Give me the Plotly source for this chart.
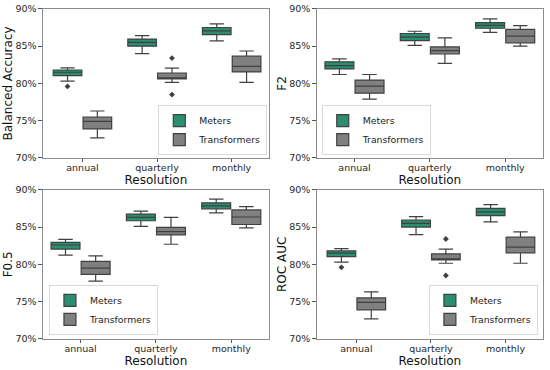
import plotly.graph_objects as go

categories = ["annual", "quarterly", "monthly"]
groups = ["Meters", "Transformers"]
metrics = ["Balanced Accuracy", "F2", "F0.5", "ROC AUC"]
y_ticks = [70, 75, 80, 85, 90]
y_tick_labels = ["70%", "75%", "80%", "85%", "90%"]

# Balanced Accuracy (percent)
ba_meters_low = [80.3, 84.0, 85.7]
ba_meters_q1 = [81.05, 85.0, 86.55]
ba_meters_med = [81.5, 85.5, 87.05]
ba_meters_q3 = [81.8, 85.95, 87.5]
ba_meters_high = [82.1, 86.4, 88.0]
ba_meters_out_x = ["annual"]
ba_meters_out_y = [79.6]
ba_trans_low = [72.7, 80.15, 80.15]
ba_trans_q1 = [73.9, 80.6, 81.55]
ba_trans_med = [74.9, 80.7, 82.3]
ba_trans_q3 = [75.5, 81.4, 83.65]
ba_trans_high = [76.3, 82.05, 84.35]
ba_trans_out_x = ["quarterly", "quarterly"]
ba_trans_out_y = [83.4, 78.5]

# F2
f2_meters_low = [81.2, 85.1, 86.85]
f2_meters_q1 = [81.95, 85.75, 87.4]
f2_meters_med = [82.4, 86.2, 87.8]
f2_meters_q3 = [82.9, 86.7, 88.15]
f2_meters_high = [83.3, 87.0, 88.65]
f2_trans_low = [77.9, 82.7, 85.0]
f2_trans_q1 = [78.7, 83.95, 85.45]
f2_trans_med = [79.65, 84.4, 86.35]
f2_trans_q3 = [80.45, 84.9, 87.25]
f2_trans_high = [81.2, 86.1, 87.75]

# F0.5
f05_meters_low = [81.25, 85.1, 86.9]
f05_meters_q1 = [82.05, 85.85, 87.45]
f05_meters_med = [82.6, 86.3, 87.85]
f05_meters_q3 = [82.95, 86.75, 88.25]
f05_meters_high = [83.35, 87.15, 88.75]
f05_trans_low = [77.75, 82.7, 84.9]
f05_trans_q1 = [78.65, 83.95, 85.35]
f05_trans_med = [79.5, 84.4, 86.35]
f05_trans_q3 = [80.4, 84.95, 87.3]
f05_trans_high = [81.15, 86.3, 87.75]

# ROC AUC
roc_meters_low = [80.3, 84.0, 85.7]
roc_meters_q1 = [81.05, 85.0, 86.55]
roc_meters_med = [81.5, 85.5, 87.05]
roc_meters_q3 = [81.8, 85.95, 87.5]
roc_meters_high = [82.1, 86.4, 88.0]
roc_meters_out_x = ["annual"]
roc_meters_out_y = [79.6]
roc_trans_low = [72.7, 80.15, 80.15]
roc_trans_q1 = [73.9, 80.6, 81.55]
roc_trans_med = [74.9, 80.7, 82.3]
roc_trans_q3 = [75.5, 81.4, 83.65]
roc_trans_high = [76.3, 82.05, 84.35]
roc_trans_out_x = ["quarterly", "quarterly"]
roc_trans_out_y = [83.4, 78.5]

panels = [
    [(ba_meters_low, ba_meters_q1, ba_meters_med, ba_meters_q3, ba_meters_high, ba_meters_out_x, ba_meters_out_y),
     (ba_trans_low, ba_trans_q1, ba_trans_med, ba_trans_q3, ba_trans_high, ba_trans_out_x, ba_trans_out_y)],
    [(f2_meters_low, f2_meters_q1, f2_meters_med, f2_meters_q3, f2_meters_high, [], []),
     (f2_trans_low, f2_trans_q1, f2_trans_med, f2_trans_q3, f2_trans_high, [], [])],
    [(f05_meters_low, f05_meters_q1, f05_meters_med, f05_meters_q3, f05_meters_high, [], []),
     (f05_trans_low, f05_trans_q1, f05_trans_med, f05_trans_q3, f05_trans_high, [], [])],
    [(roc_meters_low, roc_meters_q1, roc_meters_med, roc_meters_q3, roc_meters_high, roc_meters_out_x, roc_meters_out_y),
     (roc_trans_low, roc_trans_q1, roc_trans_med, roc_trans_q3, roc_trans_high, roc_trans_out_x, roc_trans_out_y)],
]

colors = ["#2a8e70", "#808080"]
edge = "#404040"
FONT = "DejaVu Sans"

x_domains = [[0.078, 0.489], [0.576, 0.987], [0.078, 0.489], [0.576, 0.987]]
y_domains = [[0.573, 0.976], [0.573, 0.976], [0.084, 0.487], [0.084, 0.487]]
legend_pos = [
    dict(x=0.486, y=0.581, xanchor="right", yanchor="bottom"),
    dict(x=0.585, y=0.581, xanchor="left", yanchor="bottom"),
    dict(x=0.089, y=0.095, xanchor="left", yanchor="bottom"),
    dict(x=0.978, y=0.095, xanchor="right", yanchor="bottom"),
]

fig = go.Figure()
layout = dict(
    width=550, height=370,
    margin=dict(l=0, r=0, t=0, b=0, autoexpand=False),
    paper_bgcolor="white", plot_bgcolor="white",
    font=dict(family=FONT, size=10, color="#222222"),
    boxmode="group", boxgap=0.2, boxgroupgap=0.04,
    showlegend=True,
)

for k, panel in enumerate(panels):
    sfx = "" if k == 0 else str(k + 1)
    leg = "legend" + sfx
    for g, (low, q1, med, q3, high, ox, oy) in enumerate(panel):
        fig.add_trace(go.Box(
            name=groups[g],
            x=categories,
            lowerfence=low, q1=q1, median=med, q3=q3, upperfence=high,
            boxpoints=False,
            fillcolor=colors[g],
            line=dict(color=edge, width=1.2),
            whiskerwidth=0.5,
            offsetgroup=groups[g],
            xaxis="x" + sfx, yaxis="y" + sfx,
            legend=leg,
            hoverinfo="skip",
        ))
    for g, (low, q1, med, q3, high, ox, oy) in enumerate(panel):
        if len(oy) == 0:
            continue
        fig.add_trace(go.Box(
            name=groups[g] + " outliers",
            x=ox, y=oy,
            boxpoints="all", jitter=0, pointpos=0,
            fillcolor="rgba(0,0,0,0)",
            line=dict(color="rgba(0,0,0,0)", width=0),
            marker=dict(symbol="diamond", size=4.5, color=edge),
            offsetgroup=groups[g],
            xaxis="x" + sfx, yaxis="y" + sfx,
            legend=leg, showlegend=False,
            hoverinfo="skip",
        ))
    layout["xaxis" + sfx] = dict(
        domain=x_domains[k], anchor="y" + sfx, type="category",
        categoryorder="array", categoryarray=categories,
        showline=True, mirror=True, linecolor="#8c8c8c", linewidth=1,
        ticks="outside", ticklen=3.5, tickcolor="#555555", tickwidth=1,
        ticklabelstandoff=-3,
        tickfont=dict(size=9.5, color="#262626"), showgrid=False, zeroline=False,
        automargin=False,
        title=dict(text="Resolution", font=dict(size=12, color="#111111"), standoff=0),
    )
    layout["yaxis" + sfx] = dict(
        domain=y_domains[k], anchor="x" + sfx, type="linear",
        range=[70, 90], tickvals=y_ticks, ticktext=y_tick_labels,
        showline=True, mirror=True, linecolor="#8c8c8c", linewidth=1,
        ticks="outside", ticklen=3.5, tickcolor="#555555", tickwidth=1,
        tickfont=dict(size=9.5, color="#262626"), showgrid=False, zeroline=False,
        automargin=False,
        title=dict(text=metrics[k], font=dict(size=12, color="#111111"), standoff=0),
    )
    layout[leg] = dict(
        **legend_pos[k],
        bgcolor="white", bordercolor="#d9d9d9", borderwidth=1,
        font=dict(size=9.3, color="#222222"),
        tracegroupgap=0, itemwidth=30,
    )

fig.update_layout(**layout)
fig.write_html(
    "out.html",
    config={"displayModeBar": False},
    post_script="document.body.style.margin='0';document.body.style.padding='0';",
)
